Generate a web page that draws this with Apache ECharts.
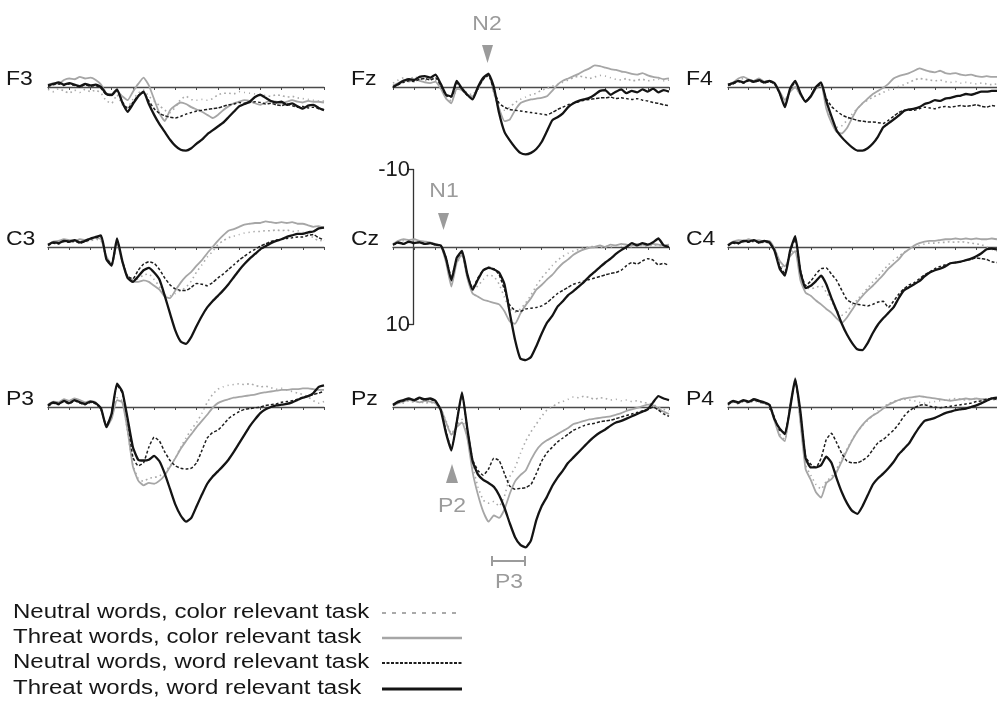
<!DOCTYPE html>
<html>
<head>
<meta charset="utf-8">
<script src="https://cdn.jsdelivr.net/npm/echarts@6.0.0/dist/echarts.min.js"></script>
<style>
  html, body { margin: 0; padding: 0; background: #fff; }
  #main { width: 997px; height: 706px; }
</style>
</head>
<body>
<div id="main"></div>
<script>
// time axis, ms after word onset
const TIMES = [-100,-75,-50,-25,0,25,50,75,100,125,150,175,200,
  225,250,275,300,325,350,375,400,425,450,475,500,
  525,550,575,600,625,650,675,700,725,750,775,800,
  825,850,875,900,925,950,975,1000,1025,1050,1075,1100,
  1125,1150,1175,1200]

// amplitudes in microvolt (positive plotted downwards)
// nc = neutral/color, tc = threat/color, nw = neutral/word, tw = threat/word
const F3_nc = [0.3,0.6,0.2,0.5,0.8,0.4,0.7,0.3,0.6,0.4,0.8,1.8,2.1,
  1.0,2.3,2.6,1.6,0.8,0.4,1.2,1.8,2.4,3.0,3.3,2.6,
  1.6,1.2,1.6,1.7,1.6,1.7,1.5,1.0,0.8,0.8,0.9,0.6,
  0.7,0.8,0.9,1.0,1.1,1.2,1.0,1.1,1.3,1.2,1.4,1.5,
  1.6,1.7,1.8,1.8]
const F3_tc = [-0.3,-0.5,-0.4,-0.9,-1.1,-1.0,-1.3,-1.1,-1.2,-0.9,-0.3,0.8,1.1,
  0.5,1.2,1.7,0.6,-0.4,-1.2,-0.2,1.6,3.4,4.4,3.0,2.4,
  2.0,2.2,2.6,2.9,3.2,3.6,4.0,3.6,3.0,2.5,2.1,1.9,
  1.7,1.8,2.1,2.3,2.0,1.8,1.9,2.1,1.9,1.7,1.9,2.0,
  1.8,1.9,1.9,2.0]
const F3_nw = [-0.1,-0.3,-0.4,-0.2,-0.4,-0.2,0.0,-0.3,-0.1,-0.2,0.2,1.0,1.1,
  0.4,1.9,2.8,2.0,1.1,0.7,1.8,2.8,3.4,3.7,3.9,4.0,
  3.8,3.5,3.3,3.1,3.0,2.9,2.8,2.7,2.5,2.3,2.2,2.0,
  2.1,2.0,1.9,2.0,2.2,2.1,2.3,2.4,2.2,2.4,2.6,2.5,
  2.7,2.6,2.8,2.9]
const F3_tw = [-0.2,-0.4,-0.6,-0.3,-0.5,-0.3,-0.1,-0.4,-0.2,-0.3,0.0,0.9,1.0,
  0.3,2.0,3.2,2.2,1.2,0.6,2.2,3.6,4.8,5.8,6.8,7.6,
  8.1,8.2,7.9,7.3,6.8,6.1,5.6,5.1,4.6,3.9,3.2,2.5,
  2.2,1.9,1.3,1.0,1.4,1.8,2.0,1.9,2.3,2.1,2.5,2.8,
  2.4,2.3,2.7,3.0]

const Fz_nc = [-0.5,-0.9,-1.2,-1.0,-1.3,-1.1,-0.8,-1.0,-0.9,0.0,1.2,1.8,0.3,
  0.2,0.8,1.0,0.0,-1.0,-1.6,0.8,2.9,3.0,2.6,2.0,1.6,
  1.3,1.0,0.8,0.4,0.2,-0.1,-0.3,-0.6,-0.9,-1.2,-1.4,-1.3,
  -1.1,-1.3,-1.5,-1.4,-1.2,-1.0,-0.9,-1.1,-0.8,-0.9,-1.0,-0.8,
  -0.9,-1.0,-0.8,-0.9]
const Fz_tc = [-0.2,-0.5,-0.9,-0.7,-1.0,-0.8,-0.6,-0.5,-0.7,0.2,1.5,2.1,0.2,
  0.4,1.0,1.2,0.2,-1.0,-1.8,0.6,2.8,4.4,4.2,3.0,2.1,
  1.8,1.6,1.5,1.4,1.2,0.5,-0.3,-0.8,-1.1,-1.4,-1.7,-2.1,
  -2.4,-2.8,-2.7,-2.5,-2.3,-2.2,-2.0,-1.9,-1.7,-1.6,-1.8,-1.5,
  -1.3,-1.2,-1.0,-1.1]
const Fz_nw = [0.0,-0.3,-0.6,-0.8,-0.7,-1.0,-1.1,-0.9,-1.2,-0.2,1.1,1.3,-0.5,
  0.3,1.1,1.5,0.1,-1.0,-1.5,0.4,2.1,2.6,2.9,3.0,3.1,
  3.2,3.3,3.4,3.5,3.6,3.3,2.9,2.6,2.3,2.1,1.9,1.7,
  1.6,1.5,1.4,1.4,1.3,1.5,1.4,1.5,1.6,1.5,1.7,1.8,
  2.0,2.1,2.3,2.4]
const Fz_tw = [0.0,-0.4,-0.8,-1.0,-0.9,-1.3,-1.4,-1.2,-1.6,-0.4,1.0,1.2,-0.8,
  0.2,1.0,1.6,0.0,-1.2,-1.7,0.0,3.4,5.8,6.9,7.8,8.5,
  8.7,8.5,8.0,7.1,5.7,4.3,3.9,3.4,2.6,2.1,1.8,1.6,
  1.4,1.0,0.5,0.4,1.0,0.6,0.3,0.8,0.5,0.7,0.3,0.6,
  0.2,0.7,0.4,0.6]

const F4_nc = [-0.2,-0.5,-0.9,-1.1,-0.8,-0.6,-0.9,-0.6,-0.7,-0.3,0.7,1.9,0.5,
  -0.1,1.1,1.8,1.2,0.3,-0.2,2.4,4.0,5.2,5.0,4.3,3.5,
  2.8,2.1,1.7,1.3,1.0,0.7,0.4,0.2,-0.1,-0.3,-0.6,-0.9,
  -1.1,-1.0,-0.9,-0.8,-0.9,-0.7,-0.6,-0.7,-0.5,-0.6,-0.5,-0.4,
  -0.5,-0.4,-0.3,-0.4]
const F4_tc = [-0.3,-0.6,-1.1,-1.3,-1.0,-0.8,-1.1,-0.7,-0.8,-0.4,0.6,1.7,0.6,
  0.0,1.0,1.9,1.3,0.2,-0.3,2.8,4.6,5.8,6.0,5.3,4.0,
  2.8,2.1,1.5,0.9,0.5,0.1,-0.4,-1.1,-1.4,-1.6,-1.8,-2.1,
  -2.4,-2.2,-2.0,-1.9,-2.1,-1.8,-1.7,-1.8,-1.6,-1.5,-1.6,-1.4,
  -1.3,-1.4,-1.3,-1.3]
const F4_nw = [-0.2,-0.4,-0.7,-0.5,-0.8,-0.6,-0.8,-0.5,-0.7,-0.4,0.9,2.4,0.3,
  -0.6,0.9,1.8,1.1,0.1,-0.4,1.5,2.5,3.1,3.6,3.9,4.1,
  4.3,4.4,4.5,4.5,4.6,4.7,4.3,3.8,3.3,3.0,3.0,3.0,
  2.8,2.6,2.7,2.8,2.6,2.5,2.6,2.5,2.4,2.5,2.4,2.3,
  2.5,2.6,2.4,2.5]
const F4_tw = [-0.3,-0.5,-0.8,-0.6,-0.9,-0.7,-0.9,-0.6,-0.8,-0.5,0.8,2.6,0.2,
  -0.8,0.8,1.9,1.2,0.0,-0.6,1.8,3.8,5.6,6.5,7.2,7.8,
  8.2,8.2,7.9,7.3,6.4,5.2,4.7,4.2,3.7,3.1,2.9,2.8,
  2.6,2.2,2.0,1.7,1.8,1.5,1.4,1.2,1.1,0.9,1.0,0.8,
  0.6,0.6,0.5,0.5]

const C3_nc = [-0.2,-0.5,-0.6,-0.8,-0.7,-0.6,-0.8,-0.7,-0.8,-1.0,-0.8,1.5,2.5,
  -0.4,2.0,3.7,4.2,4.1,3.6,3.5,4.2,5.1,6.2,6.3,6.0,
  5.6,5.2,4.4,3.2,2.3,1.3,0.6,-0.3,-0.8,-1.2,-1.4,-1.6,
  -1.8,-1.9,-2.0,-2.0,-2.1,-2.1,-2.2,-2.1,-2.2,-2.0,-2.1,-1.9,
  -1.6,-1.2,-0.8,-0.9]
const C3_tc = [-0.3,-0.7,-0.8,-1.0,-0.9,-0.8,-1.0,-0.9,-1.0,-1.2,-1.0,1.2,2.3,
  -0.6,2.0,3.9,4.4,4.5,4.3,4.5,5.0,5.5,6.4,6.6,5.6,
  4.6,3.8,3.2,2.4,1.7,0.8,0.0,-0.8,-1.5,-2.1,-2.3,-2.6,
  -2.9,-3.0,-3.1,-3.1,-3.3,-3.2,-3.1,-3.2,-3.1,-3.2,-3.0,-3.0,
  -2.8,-2.6,-2.7,-2.5]
const C3_nw = [-0.2,-0.5,-0.4,-0.7,-0.6,-0.8,-0.5,-0.7,-1.0,-1.2,-1.3,1.5,2.2,
  -0.9,1.8,3.8,4.1,3.0,2.2,1.9,2.1,2.9,4.0,4.9,5.4,
  5.6,5.6,5.2,4.7,4.8,5.0,4.6,4.0,3.5,2.9,2.3,1.7,
  1.2,0.7,0.3,-0.1,-0.4,-0.7,-0.9,-1.0,-1.1,-1.2,-1.3,-1.3,
  -1.5,-1.6,-1.2,-0.9]
const C3_tw = [-0.3,-0.6,-0.5,-0.8,-0.7,-0.9,-0.6,-0.8,-1.1,-1.3,-1.5,1.6,2.4,
  -1.1,1.8,4.0,4.5,3.8,3.0,2.7,3.3,4.2,6.3,8.6,10.8,
  12.2,12.5,11.6,10.2,8.9,7.8,7.0,6.3,5.6,4.8,3.9,3.0,
  2.2,1.5,0.9,0.3,-0.1,-0.5,-0.8,-1.0,-1.3,-1.5,-1.7,-1.7,
  -1.9,-2.0,-2.4,-2.5]

const Cz_nc = [-0.3,-0.6,-0.8,-0.7,-0.8,-0.6,-0.5,-0.5,-0.3,-0.1,1.8,4.6,2.2,
  1.0,3.8,5.6,5.0,4.2,3.6,3.8,4.8,6.5,8.0,8.4,8.0,
  7.2,6.2,5.0,4.0,3.2,2.4,1.7,1.2,0.8,0.5,0.3,0.1,
  0.0,-0.1,0.1,-0.1,0.0,-0.2,-0.1,-0.2,0.0,-0.1,-0.2,-0.1,
  -0.3,-0.2,-0.1,-0.2]
const Cz_tc = [-0.4,-0.8,-1.0,-0.9,-1.0,-0.8,-0.7,-0.6,-0.4,-0.2,2.0,5.1,2.0,
  0.9,4.0,6.0,6.4,6.8,7.0,7.2,7.4,8.3,9.6,9.9,8.6,
  7.5,6.6,5.5,4.9,4.2,3.6,2.8,2.1,1.6,1.0,0.6,0.3,
  0.1,0.0,-0.2,0.0,-0.3,-0.2,-0.4,-0.3,-0.2,-0.4,-0.3,-0.2,
  -0.4,-0.3,-0.2,-0.3]
const Cz_nw = [-0.3,-0.5,-0.4,-0.6,-0.5,-0.6,-0.4,-0.5,-0.3,-0.2,1.4,4.0,1.5,
  0.7,3.6,5.3,4.0,3.0,2.6,2.8,3.6,5.5,7.5,8.2,8.3,
  8.0,7.9,7.8,7.6,7.2,6.6,6.0,5.6,5.2,4.8,4.6,4.4,
  4.2,4.0,3.8,3.6,3.4,3.3,3.0,2.4,2.0,2.2,1.8,1.5,
  1.7,2.3,2.1,2.4]
const Cz_tw = [-0.3,-0.6,-0.4,-0.7,-0.5,-0.6,-0.4,-0.5,-0.3,-0.2,1.5,4.3,1.4,
  0.5,3.5,5.5,4.2,3.0,2.7,2.9,3.3,4.8,8.5,12.0,14.4,
  14.6,14.2,12.8,11.2,9.8,8.9,7.7,7.0,6.2,5.7,5.1,4.5,
  3.8,3.2,2.6,2.0,1.5,0.9,0.4,0.0,-0.5,-0.2,-0.5,-0.3,
  -0.6,-1.1,-0.2,0.0]

const C4_nc = [-0.2,-0.5,-0.7,-0.6,-0.8,-0.6,-0.7,-0.5,-0.6,0.3,2.0,3.0,1.0,
  0.0,3.6,5.2,5.4,5.2,5.0,5.8,7.0,8.2,8.8,8.3,7.5,
  6.8,6.0,5.3,4.5,3.8,3.0,2.3,1.7,1.2,0.7,0.3,0.0,
  -0.2,-0.4,-0.5,-0.5,-0.6,-0.6,-0.7,-0.6,-0.7,-0.6,-0.5,-0.4,
  -0.3,0.0,0.3,0.5]
const C4_tc = [-0.3,-0.7,-0.9,-0.8,-1.0,-0.8,-0.9,-0.7,-0.8,0.2,1.8,2.5,1.2,
  0.5,4.3,5.9,6.3,6.9,7.4,8.0,8.5,9.2,9.8,9.1,8.1,
  7.1,6.3,5.6,5.0,4.3,3.6,2.8,2.2,1.6,0.8,0.3,-0.2,
  -0.5,-0.7,-0.8,-0.8,-0.9,-1.0,-1.0,-1.1,-1.0,-1.1,-1.0,-1.1,
  -1.0,-1.0,-1.1,-1.0]
const C4_nw = [-0.2,-0.5,-0.4,-0.7,-0.6,-0.8,-0.5,-0.7,-0.5,0.4,2.5,3.4,0.6,
  -1.0,3.0,5.0,4.4,3.5,2.8,2.7,3.5,4.3,5.6,6.8,7.2,
  7.4,7.5,7.6,7.4,7.1,7.0,7.8,7.0,6.1,5.4,4.9,4.6,
  4.1,3.6,3.2,2.8,2.5,2.3,2.1,2.0,1.9,1.7,1.6,1.4,
  1.5,1.6,1.9,2.0]
const C4_tw = [-0.2,-0.6,-0.5,-0.8,-0.7,-0.9,-0.6,-0.8,-0.6,0.5,2.8,3.7,0.5,
  -1.4,3.2,5.3,5.0,4.4,3.7,4.8,6.6,8.2,9.9,11.3,12.4,
  13.2,13.3,12.4,11.1,10.0,9.2,8.5,7.8,6.6,5.6,5.2,4.8,
  4.4,3.8,3.3,3.0,2.8,2.5,2.1,2.0,1.9,1.7,1.5,1.2,
  0.8,0.3,0.2,0.3]

const P3_nc = [-0.2,-0.5,-0.4,-0.8,-0.6,-0.9,-0.7,-0.5,-0.6,-0.4,0.4,2.4,1.3,
  -1.2,-0.8,3.2,7.5,9.2,9.6,9.2,9.1,8.9,8.4,7.6,6.6,
  5.2,4.0,2.9,2.0,0.8,-0.6,-1.6,-2.3,-2.6,-2.8,-2.9,-3.0,
  -2.9,-3.0,-2.8,-2.6,-2.7,-2.5,-2.3,-2.4,-2.2,-2.0,-1.8,-1.6,
  -1.3,-0.8,-0.5,-0.7]
const P3_tc = [-0.3,-0.7,-0.6,-1.0,-0.8,-1.1,-0.9,-0.6,-0.8,-0.6,0.3,2.6,1.5,
  -0.9,-0.6,3.0,7.7,9.5,10.1,9.8,9.9,9.5,8.8,7.7,6.6,
  5.4,4.4,3.5,2.6,1.8,1.0,0.1,-0.5,-0.8,-1.0,-1.2,-1.3,
  -1.4,-1.5,-1.6,-1.8,-1.9,-2.0,-2.1,-2.2,-2.2,-2.3,-2.3,-2.4,
  -2.4,-2.3,-2.2,-2.2]
const P3_nw = [-0.1,-0.5,-0.3,-0.7,-0.4,-0.8,-0.5,-0.3,-0.6,-0.4,0.3,2.4,0.9,
  -2.8,-1.8,1.6,6.5,7.6,7.2,5.2,3.9,4.4,5.8,6.9,7.6,
  7.9,8.0,7.9,7.2,5.6,4.0,3.3,3.0,2.3,1.5,1.0,0.6,
  0.3,0.2,0.1,0.0,-0.2,-0.3,-0.4,-0.6,-0.7,-0.8,-1.0,-1.2,
  -1.4,-1.6,-1.8,-2.0]
const P3_tw = [-0.2,-0.6,-0.4,-0.8,-0.5,-0.9,-0.6,-0.4,-0.7,-0.5,0.2,2.6,0.8,
  -3.0,-2.0,1.5,5.2,6.8,6.9,6.8,6.3,7.0,8.6,10.6,12.6,
  14.0,14.8,14.3,12.8,11.3,9.9,9.0,8.3,7.6,6.8,5.8,4.7,
  3.6,2.5,1.6,0.8,0.3,0.0,-0.2,-0.3,-0.4,-0.6,-0.9,-1.2,
  -1.4,-1.8,-2.6,-2.8]

const Pz_nc = [-0.3,-0.6,-0.5,-0.8,-0.6,-0.7,-0.5,-0.6,-0.4,0.3,1.8,3.4,2.4,
  1.6,3.8,7.6,10.3,12.0,12.4,12.2,12.8,11.5,9.0,7.8,6.0,
  4.4,3.2,2.2,1.2,0.4,0.0,-0.5,-0.7,-1.0,-1.3,-1.2,-1.4,
  -1.2,-1.0,-1.2,-1.1,-0.9,-1.0,-0.8,-0.9,-0.7,-0.8,-0.6,-0.5,
  -0.3,0.0,0.3,0.5]
const Pz_tc = [-0.2,-0.5,-0.7,-0.9,-0.8,-0.6,-0.8,-0.7,-0.5,0.2,2.0,3.6,2.6,
  2.0,4.0,8.4,11.3,13.5,14.8,14.0,14.3,13.2,11.2,9.6,8.8,
  8.2,6.8,5.6,4.8,4.3,3.9,3.5,3.1,2.7,2.2,2.0,1.8,
  1.6,1.5,1.4,1.3,1.2,1.0,0.8,0.5,0.3,0.1,-0.1,-0.3,
  -0.2,0.2,0.6,0.9]
const Pz_nw = [-0.2,-0.6,-0.8,-1.0,-0.8,-1.1,-0.9,-1.0,-0.7,0.3,3.2,5.4,2.0,
  -1.7,2.8,6.8,8.2,8.8,8.0,6.6,6.9,8.6,10.2,10.6,10.5,
  10.4,10.0,8.6,7.0,5.9,5.2,4.5,4.0,3.5,3.0,2.7,2.4,
  2.2,2.1,1.9,1.8,1.7,1.5,1.3,1.1,0.9,0.7,0.5,0.3,
  0.0,0.4,0.9,1.2]
const Pz_tw = [-0.3,-0.7,-0.9,-1.1,-0.9,-1.2,-1.0,-1.1,-0.8,0.4,3.4,5.6,2.0,
  -1.9,2.8,7.0,8.7,9.4,9.8,10.3,11.4,13.0,15.0,16.8,17.8,
  18.1,17.2,14.6,12.8,11.6,10.2,9.1,8.2,7.2,6.5,5.8,5.1,
  4.4,3.8,3.3,2.9,2.4,2.0,1.8,1.5,1.2,0.9,0.6,0.3,
  -0.6,-1.4,-1.1,-0.9]

const P4_nc = [-0.2,-0.6,-0.4,-0.7,-0.5,-0.8,-0.6,-0.4,-0.2,1.6,3.5,4.2,-0.1,
  -3.5,1.8,7.5,8.8,10.0,10.6,9.6,9.0,8.0,6.6,5.4,4.2,
  3.2,2.4,1.7,1.1,0.5,0.0,-0.4,-0.7,-0.9,-1.0,-0.9,-0.8,
  -0.6,-0.5,-0.6,-0.7,-0.8,-0.9,-1.0,-1.1,-1.0,-0.9,-1.0,-1.1,
  -1.0,-1.0,-0.9,-1.0]
const P4_tc = [-0.3,-0.7,-0.5,-0.8,-0.6,-0.9,-0.7,-0.5,-0.2,1.8,3.8,4.4,-0.3,
  -3.8,2.0,8.0,9.4,11.0,11.7,9.8,9.3,8.4,7.0,5.6,4.3,
  3.2,2.3,1.6,1.1,0.7,0.2,-0.3,-0.6,-0.9,-1.1,-1.2,-1.3,
  -1.4,-1.3,-1.2,-1.1,-1.0,-0.9,-0.8,-0.9,-1.0,-1.1,-1.0,-1.1,
  -1.0,-1.0,-1.1,-1.0]
const P4_nw = [-0.3,-0.7,-0.5,-0.8,-0.6,-0.9,-0.7,-0.5,-0.3,1.4,3.0,3.3,0.0,
  -3.4,0.8,6.4,7.4,7.8,6.6,4.2,3.4,4.6,6.0,7.0,7.2,
  7.2,6.9,6.4,5.5,4.6,4.2,3.6,3.0,2.2,1.2,0.5,0.1,
  -0.2,-0.3,-0.1,0.0,0.1,0.0,-0.1,-0.2,-0.3,-0.4,-0.5,-0.7,
  -0.8,-1.0,-1.1,-1.0]
const P4_tw = [-0.4,-0.8,-0.6,-0.9,-0.7,-1.0,-0.8,-0.6,-0.3,1.6,2.8,3.5,0.2,
  -3.6,0.6,6.6,7.8,7.8,7.5,6.4,7.2,9.2,11.0,12.4,13.4,
  13.8,12.8,11.4,10.0,9.2,8.6,7.9,7.1,6.1,5.4,4.7,3.6,
  2.6,1.8,1.6,1.4,1.1,0.8,0.6,0.4,0.3,0.2,0.0,-0.2,
  -0.5,-0.8,-1.1,-1.2]

const CONDITIONS = ['Neutral words, color relevant task', 'Threat words, color relevant task',
  'Neutral words, word relevant task', 'Threat words, word relevant task']

// electrode, column, row, nc, tc, nw, tw
const PANELS = [
  ['F3', 0, 0, F3_nc, F3_tc, F3_nw, F3_tw],
  ['Fz', 1, 0, Fz_nc, Fz_tc, Fz_nw, Fz_tw],
  ['F4', 2, 0, F4_nc, F4_tc, F4_nw, F4_tw],
  ['C3', 0, 1, C3_nc, C3_tc, C3_nw, C3_tw],
  ['Cz', 1, 1, Cz_nc, Cz_tc, Cz_nw, Cz_tw],
  ['C4', 2, 1, C4_nc, C4_tc, C4_nw, C4_tw],
  ['P3', 0, 2, P3_nc, P3_tc, P3_nw, P3_tw],
  ['Pz', 1, 2, Pz_nc, Pz_tc, Pz_nw, Pz_tw],
  ['P4', 2, 2, P4_nc, P4_tc, P4_nw, P4_tw]
]

// layout
const COL_X = [48, 393, 728]
const ROW_BASE = [87, 247, 407]
const PANEL_W = 276
const PX_PER_UV = 7.75
const Y_MIN = -5, Y_MAX = 20
const FONT = '"Liberation Sans", Arial, sans-serif'
const GRAY = '#9b9b9b'

const LINE_STYLES = [
  { color: '#aaaaaa', width: 1.6, type: [1.5, 3.5] },  // neutral, color task
  { color: '#a6a6a6', width: 1.8, type: 'solid' },     // threat, color task
  { color: '#1e1e1e', width: 1.5, type: [3, 2] },      // neutral, word task
  { color: '#141414', width: 2.3, type: 'solid' }      // threat, word task
]
// legend samples draw the dotted one with longer dashes, as in the key
const LEGEND_DASH = [[4, 6], null, [3, 1.5], null]

let grids = [], xAxes = [], yAxes = [], series = [], graphics = []

PANELS.forEach((p, k) => {
  let [name, col, row] = p
  let base = ROW_BASE[row]
  grids.push({
    left: COL_X[col], width: PANEL_W,
    top: base + Y_MIN * PX_PER_UV, height: (Y_MAX - Y_MIN) * PX_PER_UV
  })
  xAxes.push({
    gridIndex: k, type: 'value', min: -100, max: 1200, interval: 100,
    axisLine: { onZero: true, lineStyle: { color: '#4a4a4a', width: 1.3 } },
    axisTick: { show: true, length: 3, lineStyle: { color: '#4a4a4a', width: 1 } },
    axisLabel: { show: false }, splitLine: { show: false }
  })
  yAxes.push({
    gridIndex: k, type: 'value', inverse: true, min: Y_MIN, max: Y_MAX, show: false
  })
  for (let s = 0; s < 4; s++) {
    series.push({
      name: CONDITIONS[s], type: 'line', xAxisIndex: k, yAxisIndex: k,
      data: TIMES.map((t, i) => [t, p[3 + s][i]]),
      showSymbol: false, smooth: 0.15, silent: true,
      lineStyle: LINE_STYLES[s], z: 2 + s
    })
  }
  graphics.push({
    type: 'text', x: COL_X[col] - 42, y: base - 8, scaleX: 1.15,
    style: { text: name, font: '20px ' + FONT, fill: '#161616',
      align: 'left', verticalAlign: 'middle', textAlign: 'left', textVerticalAlign: 'middle' }
  })
})

// scale bar at Cz (-10 / 10 microvolt at time zero)
grids.push({ left: 413, width: 1, top: ROW_BASE[1] - 10 * PX_PER_UV, height: 20 * PX_PER_UV })
xAxes.push({ gridIndex: 9, type: 'value', min: 0, max: 1, show: false })
yAxes.push({
  gridIndex: 9, type: 'value', inverse: true, min: -10, max: 10, interval: 20,
  axisLine: { show: true, lineStyle: { color: '#333', width: 1.3 } },
  axisTick: { show: true, length: 6, lineStyle: { color: '#333', width: 1.3 } },
  axisLabel: { show: true, fontSize: 22, color: '#1e1e1e', fontFamily: FONT, margin: 3 },
  splitLine: { show: false }
})

function gtext(str, x, y, color, size) {
  return {
    type: 'text', x: x, y: y, scaleX: 1.15,
    style: { text: str, font: size + 'px ' + FONT, fill: color,
      align: 'center', verticalAlign: 'middle', textAlign: 'center', textVerticalAlign: 'middle' }
  }
}

// component markers
graphics.push(gtext('N2', 487, 24, GRAY, 20))
graphics.push({ type: 'polygon', shape: { points: [[482, 45], [493, 45], [487.5, 63]] }, style: { fill: GRAY } })
graphics.push(gtext('N1', 444, 191, GRAY, 20))
graphics.push({ type: 'polygon', shape: { points: [[438, 213], [449, 213], [443.5, 230]] }, style: { fill: GRAY } })
graphics.push({ type: 'polygon', shape: { points: [[446, 483], [458, 483], [452, 464]] }, style: { fill: GRAY } })
graphics.push(gtext('P2', 452, 506, GRAY, 20))
graphics.push({ type: 'line', shape: { x1: 492, y1: 561, x2: 525, y2: 561 }, style: { stroke: GRAY, lineWidth: 2 } })
graphics.push({ type: 'line', shape: { x1: 492, y1: 556, x2: 492, y2: 566 }, style: { stroke: GRAY, lineWidth: 2 } })
graphics.push({ type: 'line', shape: { x1: 525, y1: 556, x2: 525, y2: 566 }, style: { stroke: GRAY, lineWidth: 2 } })
graphics.push(gtext('P3', 509, 582, GRAY, 20))

// legend, text left aligned and line samples in one column
const LEGEND_Y = [612, 637, 662, 688]
CONDITIONS.forEach((c, s) => {
  graphics.push({
    type: 'text', x: 13, y: LEGEND_Y[s], scaleX: 1.2,
    style: { text: c, font: '20px ' + FONT, fill: '#161616',
      align: 'left', verticalAlign: 'middle', textAlign: 'left', textVerticalAlign: 'middle' }
  })
  let ls = LINE_STYLES[s]
  graphics.push({
    type: 'line', shape: { x1: 382, y1: LEGEND_Y[s] + 1, x2: 462, y2: LEGEND_Y[s] + 1 },
    style: { stroke: ls.color, lineWidth: ls.width + 0.5, lineDash: LEGEND_DASH[s] }
  })
})

var myChart = echarts.init(document.getElementById('main'))
myChart.setOption({
  animation: false,
  backgroundColor: '#ffffff',
  grid: grids,
  xAxis: xAxes,
  yAxis: yAxes,
  series: series,
  graphic: graphics
})
</script>
</body>
</html>
